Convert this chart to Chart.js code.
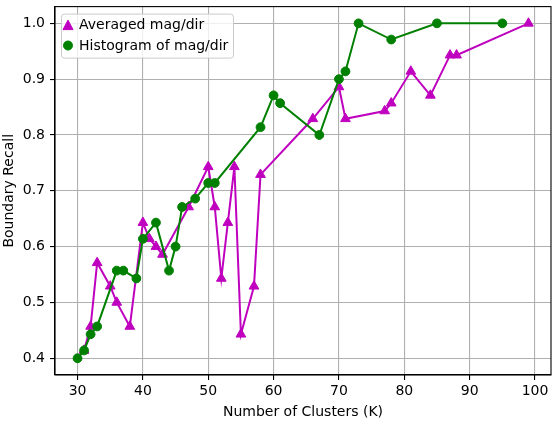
<!DOCTYPE html>
<html><head><meta charset="utf-8">
<script src="https://cdn.jsdelivr.net/npm/chart.js@4/dist/chart.umd.min.js"></script>
<style>html,body{margin:0;padding:0;background:#fff}#wrap{width:559px;height:422px;position:relative}</style>
</head><body><div id="wrap"><canvas id="c"></canvas></div>
<script>
const avgK = [31,32,33,35,36,38,40,41,42,43,47,50,51,52,53,54,55,57,58,66,70,71,77,78,81,84,87,88,99];
const avgRecall = [0.414,0.457,0.571,0.529,0.5,0.457,0.643,0.614,0.6,0.586,0.671,0.743,0.671,0.543,0.643,0.743,0.443,0.529,0.729,0.829,0.886,0.829,0.843,0.857,0.914,0.871,0.943,0.943,1.0];
const histK = [30,31,32,33,36,37,39,40,42,44,45,46,48,50,51,58,60,61,67,70,71,73,78,85,95];
const histRecall = [0.4,0.414,0.443,0.457,0.557,0.557,0.543,0.614,0.643,0.557,0.6,0.671,0.686,0.714,0.714,0.814,0.871,0.857,0.8,0.9,0.914,1.0,0.971,1.0,1.0];
const xTicks = [30,40,50,60,70,80,90,100];
const yTicks = [0.4,0.5,0.6,0.7,0.8,0.9,1.0];
const seriesLabels = ['Averaged mag/dir','Histogram of mag/dir'];
const xTitle = 'Number of Clusters (K)';
const yTitle = 'Boundary Recall';

const FONT = {family:'DejaVu Sans', size:14};
const MAG = '#bf00bf', GRN = '#008000';

const toPts = (xs, ys) => xs.map((x,i)=>({x:x, y:ys[i]}));

const frame = {
  id:'frame',
  afterDatasetsDraw(chart){
    const {ctx, chartArea:a} = chart;
    ctx.save();
    ctx.strokeStyle = '#000'; ctx.lineWidth = 1.1;
    ctx.strokeRect(a.left, a.top, a.right-a.left, a.bottom-a.top);
    ctx.restore();
  },
  afterDraw(chart){
    const {ctx, chartArea:a} = chart;
    ctx.save();
    const bx = a.left+6.5, by = a.top+7.5, bw = 172, bh = 44, r = 3;
    ctx.beginPath();
    ctx.moveTo(bx+r,by); ctx.lineTo(bx+bw-r,by); ctx.arcTo(bx+bw,by,bx+bw,by+r,r);
    ctx.lineTo(bx+bw,by+bh-r); ctx.arcTo(bx+bw,by+bh,bx+bw-r,by+bh,r);
    ctx.lineTo(bx+r,by+bh); ctx.arcTo(bx,by+bh,bx,by+bh-r,r);
    ctx.lineTo(bx,by+r); ctx.arcTo(bx,by,bx+r,by,r); ctx.closePath();
    ctx.fillStyle = 'rgba(255,255,255,0.8)'; ctx.fill();
    ctx.strokeStyle = '#cccccc'; ctx.lineWidth = 1; ctx.stroke();
    ctx.font = '14px "DejaVu Sans"';
    ctx.textBaseline = 'middle'; ctx.textAlign = 'left';
    chart.data.datasets.forEach((ds,i)=>{
      const cy = by + 11 + i*20.4, mx = a.left + 13;
      ctx.fillStyle = ds.pointBackgroundColor; ctx.strokeStyle = ds.pointBorderColor;
      ctx.lineWidth = 1;
      ctx.beginPath();
      if (ds.pointStyle === 'triangle') {
        ctx.moveTo(mx, cy-5); ctx.lineTo(mx+5, cy+4.5); ctx.lineTo(mx-5, cy+4.5); ctx.closePath();
      } else {
        ctx.arc(mx, cy, 4.5, 0, Math.PI*2);
      }
      ctx.fill(); ctx.stroke();
      ctx.fillStyle = '#000';
      ctx.fillText(ds.label, a.left + 24, cy + 0.5);
    });
    ctx.restore();
  }
};

new Chart(document.getElementById('c'), {
  type:'line',
  data:{datasets:[
    {label:seriesLabels[0], data:toPts(avgK,avgRecall), borderColor:MAG, backgroundColor:MAG,
     pointBackgroundColor:MAG, pointBorderColor:MAG, pointStyle:'triangle', pointRadius:5.6,
     pointBorderWidth:1, borderWidth:2, tension:0, fill:false, order:1},
    {label:seriesLabels[1], data:toPts(histK,histRecall), borderColor:GRN, backgroundColor:GRN,
     pointBackgroundColor:GRN, pointBorderColor:GRN, pointStyle:'circle', pointRadius:4.4,
     pointBorderWidth:1, borderWidth:2, tension:0, fill:false, order:0}
  ]},
  options:{
    responsive:true, maintainAspectRatio:false, animation:false,
    layout:{padding:{left:0,right:8,top:6,bottom:0}},
    plugins:{legend:{display:false}, tooltip:{enabled:false}},
    scales:{
      x:{type:'linear', min:26.55, max:102.45,
        afterBuildTicks(s){ s.ticks = xTicks.map(v=>({value:v})); },
        afterFit(s){ s.height = 47; s.paddingLeft = 0; s.paddingRight = 0; },
        ticks:{font:FONT, color:'#000', padding:3, maxRotation:0, callback:v=>String(v)},
        grid:{color:'#b0b0b0', lineWidth:1.1, tickColor:'#000', tickLength:5, drawTicks:true},
        border:{color:'#000', width:1.1},
        title:{display:true, text:xTitle, font:FONT, color:'#000', padding:{top:0,bottom:1.5}}
      },
      y:{type:'linear', min:0.37, max:1.03,
        afterBuildTicks(s){ s.ticks = yTicks.map(v=>({value:v})); },
        afterFit(s){ s.width = 55; s.paddingTop = 0; s.paddingBottom = 0; },
        ticks:{font:FONT, color:'#000', padding:5, callback:v=>v.toFixed(1)},
        grid:{color:'#b0b0b0', lineWidth:1.1, tickColor:'#000', tickLength:5, drawTicks:true},
        border:{color:'#000', width:1.1},
        title:{display:true, text:yTitle, font:FONT, color:'#000', padding:{top:1,bottom:0}}
      }
    }
  },
  plugins:[frame]
});
</script></body></html>
